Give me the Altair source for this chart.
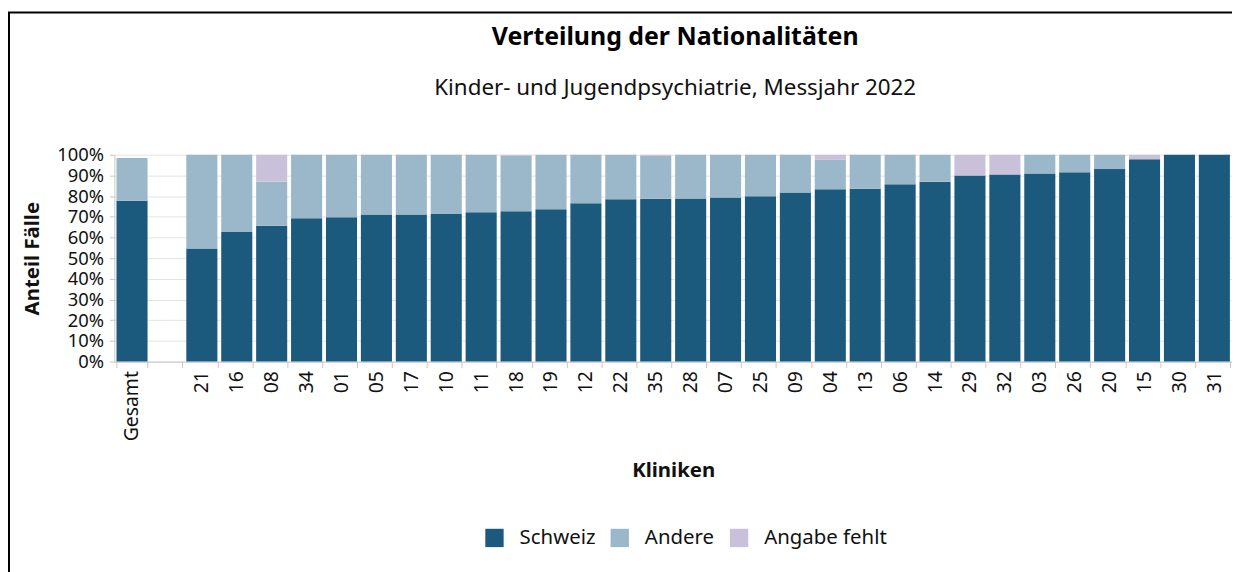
import altair as alt
import pandas as pd

kliniken = ["Gesamt", " ", "21", "16", "08", "34", "01", "05", "17", "10", "11", "18", "19", "12",
            "22", "35", "28", "07", "25", "09", "04", "13", "06", "14", "29", "32", "03", "26",
            "20", "15", "30", "31"]
schweiz = [77.8, 0, 54.7, 62.6, 65.7, 69.3, 69.8, 71.1, 71.1, 71.4, 72.2, 72.7, 73.7, 76.6,
           78.5, 78.7, 78.8, 79.3, 79.9, 81.7, 83.3, 83.6, 85.7, 87.0, 90.0, 90.5, 91.0, 91.5,
           93.1, 97.8, 100.0, 100.0]
andere = [20.6, 0, 45.3, 37.4, 21.3, 30.7, 30.2, 28.9, 28.9, 28.6, 27.8, 27.0, 26.3, 23.4,
          21.5, 21.0, 21.2, 20.7, 20.1, 18.3, 14.3, 16.4, 14.3, 13.0, 0, 0, 9.0, 8.5,
          6.9, 0, 0, 0]
fehlt = [0, 0, 0, 0, 13.0, 0, 0, 0, 0, 0, 0, 0.3, 0, 0,
         0, 0.3, 0, 0, 0, 0, 2.4, 0, 0, 0, 10.0, 9.5, 0, 0,
         0, 2.2, 0, 0]
gruppen = ["Schweiz", "Andere", "Angabe fehlt"]
farben = ["#1c5a7d", "#9ab8c9", "#c9c0da"]
titel = "Verteilung der Nationalitäten"
untertitel = "Kinder- und Jugendpsychiatrie, Messjahr 2022"

rows = []
for i, k in enumerate(kliniken):
    for j, (g, vals) in enumerate(zip(gruppen, [schweiz, andere, fehlt])):
        rows.append({"Klinik": k, "Gruppe": g, "Wert": vals[i] / 100.0, "Ord": j})
df = pd.DataFrame(rows)

FONT = "Noto Sans"
W, H = 1124, 208

bars = alt.Chart(df).mark_bar().encode(
    x=alt.X("Klinik:N", sort=kliniken,
            scale=alt.Scale(paddingInner=0.11, paddingOuter=0.06),
            axis=alt.Axis(title="Kliniken", labelAngle=-90, labelFontSize=19.5,
                          titleFontSize=20.5, titleFontWeight="bold", titlePadding=20,
                          tickBand="extent", domainColor="#c8c8c8", tickColor="#c8c8c8",
                          tickSize=6, labelPadding=3, grid=False, labelColor="#111111",
                          titleColor="#111111")),
    y=alt.Y("Wert:Q", stack="zero",
            scale=alt.Scale(domain=[0, 1], nice=False),
            axis=alt.Axis(title="Anteil Fälle", format=".0%", values=[i / 10 for i in range(11)],
                          labelFontSize=18.5, titleFontSize=20.5, titleFontWeight="bold",
                          titlePadding=14, domainColor="#c8c8c8", tickColor="#c8c8c8",
                          gridColor="#e3e3e3", tickSize=5, labelPadding=6,
                          labelColor="#111111", titleColor="#111111")),
    color=alt.Color("Gruppe:N", sort=gruppen,
                    scale=alt.Scale(domain=gruppen, range=farben),
                    legend=alt.Legend(title=None, orient="none", direction="horizontal",
                                      legendX=372, legendY=375, symbolType="square",
                                      symbolSize=340, symbolStrokeWidth=0, labelFontSize=20.5,
                                      labelOffset=15, columnPadding=14, labelColor="#111111")),
    order=alt.Order("Ord:Q"),
)

one = alt.Data(values=[{}])
title_mark = alt.Chart(one).mark_text(fontSize=25, fontWeight="bold", font=FONT,
                                      color="#000000", baseline="middle", align="center").encode(
    x=alt.value(W / 2 + 2), y=alt.value(-118), text=alt.value(titel))
subtitle_mark = alt.Chart(one).mark_text(fontSize=22.5, font=FONT, color="#111111",
                                         baseline="middle", align="center").encode(
    x=alt.value(W / 2 + 2), y=alt.value(-67), text=alt.value(untertitel))

frame_left = alt.Chart(one).mark_rule(color="#000000", strokeWidth=2).encode(
    x=alt.value(-106), y=alt.value(-143), y2=alt.value(420))
frame_top = alt.Chart(one).mark_rule(color="#000000", strokeWidth=2).encode(
    x=alt.value(-107), x2=alt.value(1130), y=alt.value(-143))

chart = alt.layer(bars, title_mark, subtitle_mark, frame_left, frame_top).properties(
    width=W, height=H,
    autosize=alt.AutoSizeParams(type="none"),
    padding={"left": 107, "top": 146, "right": 0, "bottom": 210},
).configure(font=FONT).configure_view(stroke=None)

chart.save("out.html", embed_options={"renderer": "svg", "actions": False})
